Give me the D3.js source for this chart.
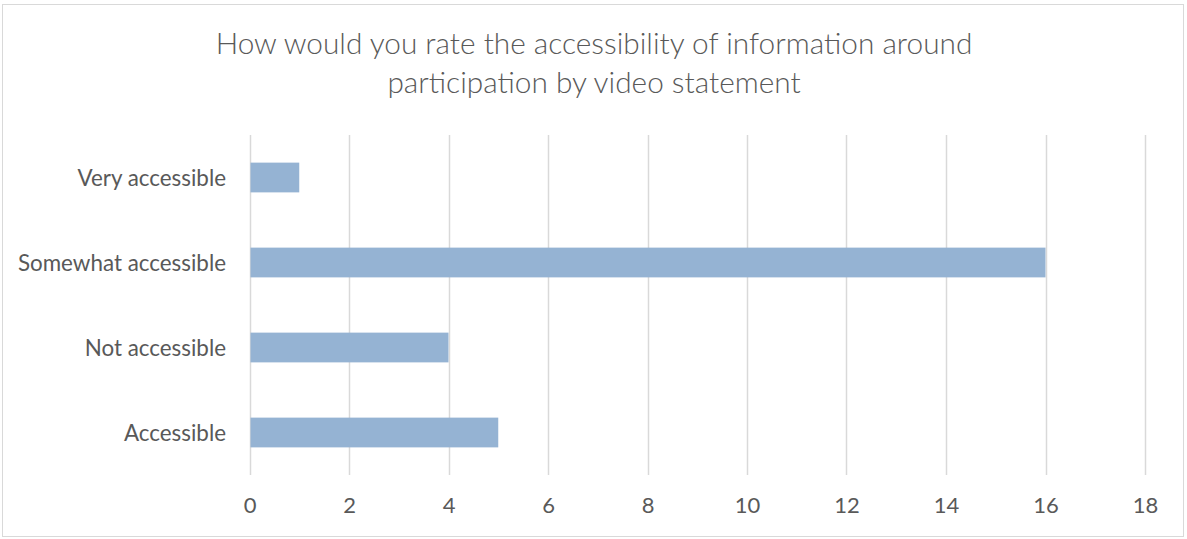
<!DOCTYPE html>
<html><head><meta charset="utf-8">
<script src="https://cdn.jsdelivr.net/npm/d3@7"></script>
<style>body{margin:0;background:#fff}svg{display:block}</style>
</head><body>
<svg id="c" width="1187" height="539"></svg>
<script>
const categories = ["Very accessible","Somewhat accessible","Not accessible","Accessible"];
const values = [1,16,4,5];
const xTicks = [0,2,4,6,8,10,12,14,16,18];
const titleLines = ["How would you rate the accessibility of information around","participation by video statement"];

const svg = d3.select("#c");
const font = "Lato, 'Open Sans', sans-serif";
const txt = "#595959";
svg.append("rect").attr("x",2.5).attr("y",4.5).attr("width",1181).attr("height",532)
  .attr("fill","#fff").attr("stroke","#d9d9d9");

const x = d3.scaleLinear().domain([0,18]).range([249.5,1145]);
const y = d3.scaleBand().domain(categories).range([135,475]).paddingInner(0.65).paddingOuter(0.325);

const g = svg.append("g");
g.selectAll("line.grid").data(xTicks).join("line").attr("class","grid")
  .attr("x1",d=>Math.round(x(d))+0.5).attr("x2",d=>Math.round(x(d))+0.5)
  .attr("y1",135).attr("y2",475).attr("stroke","#d9d9d9").attr("stroke-width",1.5);

g.selectAll("rect.bar").data(values).join("rect").attr("class","bar")
  .attr("x",x(0)+1).attr("y",(d,i)=>y(categories[i]))
  .attr("width",d=>x(d)-x(0)-1).attr("height",y.bandwidth()).attr("fill","#95b3d3");

const xAxis = d3.axisBottom(x).tickValues(xTicks).tickSize(0).tickPadding(0);
const xa = svg.append("g").attr("transform","translate(0,497)").call(xAxis);
xa.select(".domain").remove();
xa.selectAll("text").attr("font-family",font).attr("font-size",22).attr("fill",txt).attr("dy","0.71em");

const yAxis = d3.axisLeft(y).tickSize(0).tickPadding(0);
const ya = svg.append("g").attr("transform","translate(226,1)").call(yAxis);
ya.select(".domain").remove();
ya.selectAll("text").attr("font-family",font).attr("font-size",22.4).attr("fill",txt);

svg.selectAll("text.title").data(titleLines).join("text").attr("class","title")
  .attr("x",594).attr("y",(d,i)=>54+i*39).attr("text-anchor","middle")
  .attr("font-family",font).attr("font-weight",300).attr("font-size",29.8).attr("fill",txt).text(d=>d);
</script>
</body></html>
